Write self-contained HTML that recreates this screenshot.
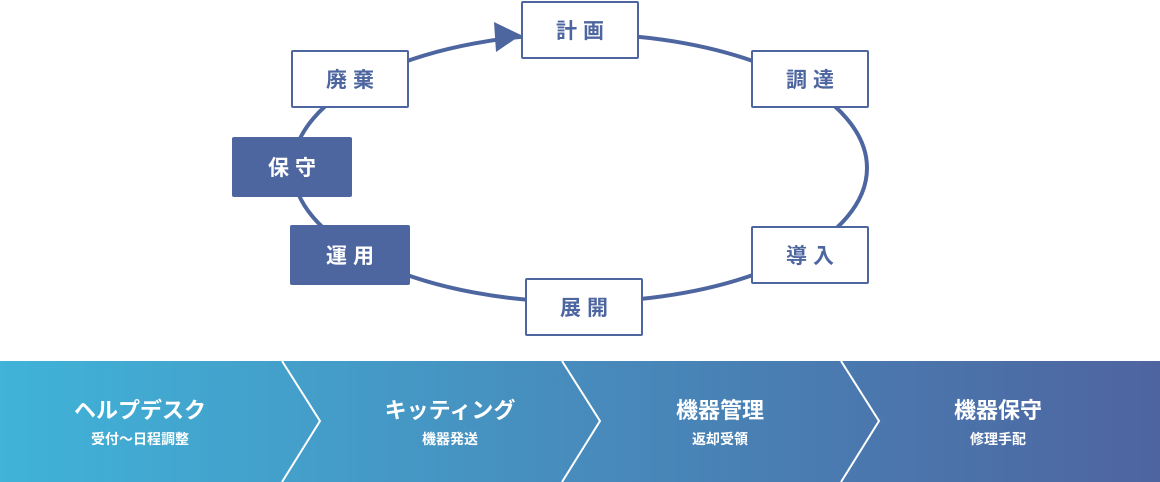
<!DOCTYPE html>
<html><head><meta charset="utf-8"><style>
body{margin:0;width:1160px;height:482px;background:#fff;overflow:hidden;position:relative;font-family:"Liberation Sans","Noto Sans CJK JP",sans-serif}
.b{position:absolute;box-sizing:border-box;width:118px;height:58px;border:2px solid #4e66a0;background:#fff;border-radius:2px;color:#4e66a0;font-size:21px;font-weight:bold;letter-spacing:6px;display:flex;align-items:center;justify-content:center;padding-left:6px}
.f{background:#4e66a0;color:#fff}
.band{position:absolute;left:0;top:361px;width:1160px;height:121px;background:linear-gradient(90deg,#40b3d8,#4e64a0)}
.s{position:absolute;top:361px;width:280px;height:121px;color:#fff;text-align:center}
.s .t{margin-top:32px;font-size:22px;font-weight:bold}
.s .u{margin-top:4px;font-size:14px;font-weight:bold}
</style></head><body>
<svg width="1160" height="482" style="position:absolute;left:0;top:0">
<ellipse cx="580" cy="168" rx="287" ry="134" fill="none" stroke="#4e66a0" stroke-width="4"/>
<polygon points="521,35 494,22 496,52" fill="#4e66a0"/>
</svg>
<div class="b" style="left:521px;top:1px">計画</div>
<div class="b" style="left:291px;top:50px">廃棄</div>
<div class="b" style="left:751px;top:50px">調達</div>
<div class="b f" style="left:232px;top:137px;width:120px;height:60px">保守</div>
<div class="b f" style="left:290px;top:225px;width:120px;height:60px">運用</div>
<div class="b" style="left:751px;top:226px">導入</div>
<div class="b" style="left:525px;top:278px">展開</div>
<div class="band"></div>
<svg width="1160" height="121" style="position:absolute;left:0;top:361px">
<polyline points="282,0 320,60 282,121" fill="none" stroke="#fff" stroke-width="2"/>
<polyline points="562,0 600,60 562,121" fill="none" stroke="#fff" stroke-width="2"/>
<polyline points="841,0 879,60 841,121" fill="none" stroke="#fff" stroke-width="2"/>
</svg>
<div class="s" style="left:0"><div class="t">ヘルプデスク</div><div class="u">受付〜日程調整</div></div>
<div class="s" style="left:310px"><div class="t">キッティング</div><div class="u">機器発送</div></div>
<div class="s" style="left:580px"><div class="t">機器管理</div><div class="u">返却受領</div></div>
<div class="s" style="left:858px"><div class="t">機器保守</div><div class="u">修理手配</div></div>
</body></html>
